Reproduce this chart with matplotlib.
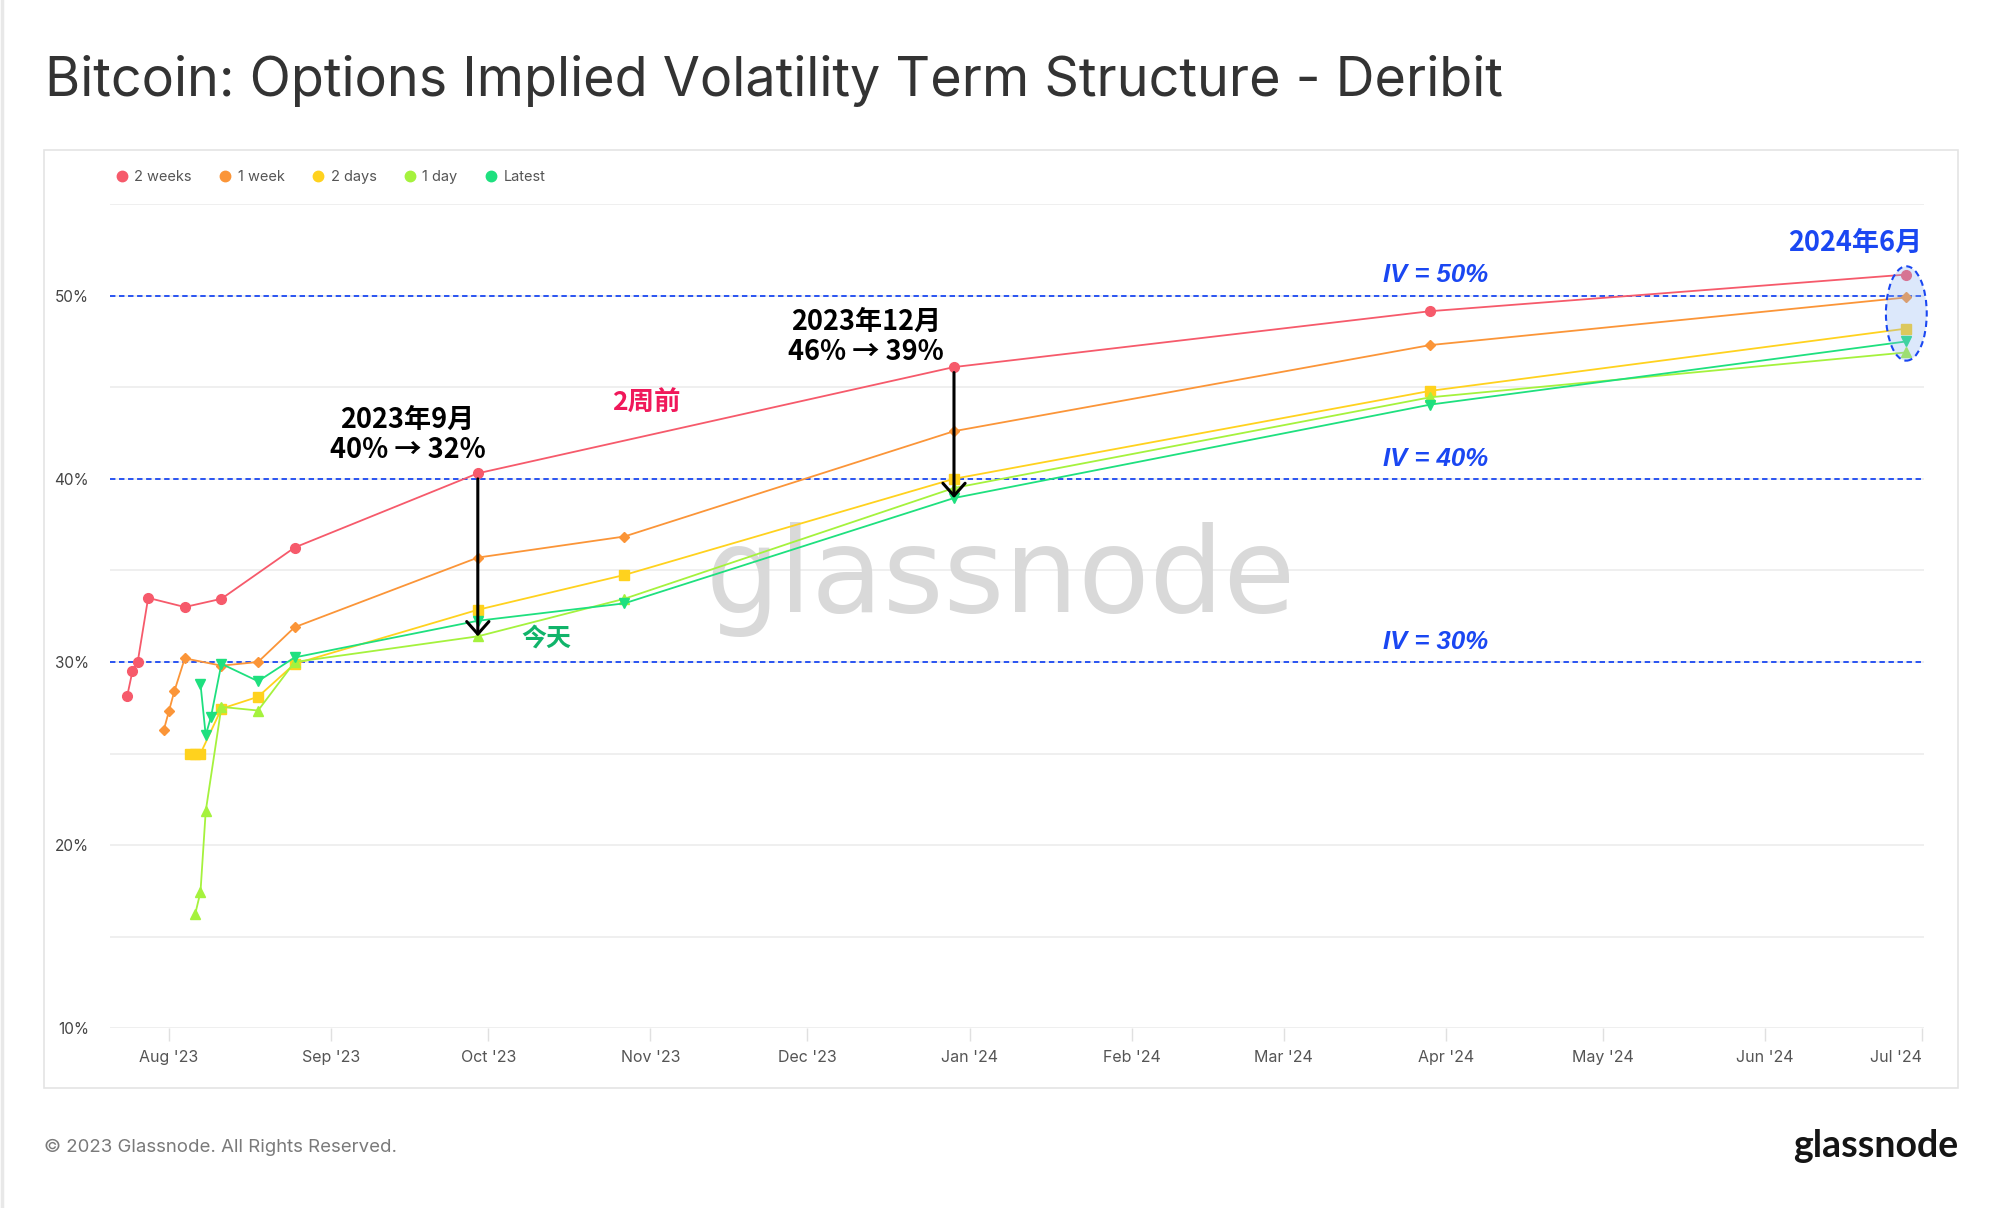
import matplotlib
matplotlib.use("Agg")
import matplotlib.pyplot as plt
import matplotlib.dates as mdates
from matplotlib.lines import Line2D
from matplotlib.patches import Ellipse, Rectangle
from matplotlib.ticker import FuncFormatter
import pandas as pd

plt.rcParams['font.family'] = ['Inter', 'Noto Sans CJK SC', 'DejaVu Sans']

# option expiries and implied vol (%) for each snapshot
two_weeks_dates = ['2023-07-24', '2023-07-25', '2023-07-26', '2023-07-28', '2023-08-04', '2023-08-11',
                   '2023-08-25', '2023-09-29', '2023-12-29', '2024-03-29', '2024-06-28']
two_weeks_iv = [28.15, 29.5, 30.0, 33.5, 33.0, 33.45, 36.25, 40.3, 46.1, 49.15, 51.15]

one_week_dates = ['2023-07-31', '2023-08-01', '2023-08-02', '2023-08-04', '2023-08-11', '2023-08-18',
                  '2023-08-25', '2023-09-29', '2023-10-27', '2023-12-29', '2024-03-29', '2024-06-28']
one_week_iv = [26.3, 27.35, 28.4, 30.2, 29.8, 30.0, 31.9, 35.7, 36.85, 42.6, 47.3, 49.9]

two_days_dates = ['2023-08-05', '2023-08-06', '2023-08-07', '2023-08-11', '2023-08-18', '2023-08-25',
                  '2023-09-29', '2023-10-27', '2023-12-29', '2024-03-29', '2024-06-28']
two_days_iv = [25.0, 25.0, 25.0, 27.45, 28.1, 29.9, 32.85, 34.75, 40.0, 44.8, 48.2]

one_day_dates = ['2023-08-06', '2023-08-07', '2023-08-08', '2023-08-11', '2023-08-18', '2023-08-25',
                 '2023-09-29', '2023-10-27', '2023-12-29', '2024-03-29', '2024-06-28']
one_day_iv = [16.25, 17.45, 21.85, 27.55, 27.35, 30.0, 31.4, 33.45, 39.5, 44.45, 46.9]

latest_dates = ['2023-08-07', '2023-08-08', '2023-08-09', '2023-08-11', '2023-08-18', '2023-08-25',
                '2023-09-29', '2023-10-27', '2023-12-29', '2024-03-29', '2024-06-28']
latest_iv = [28.8, 26.0, 27.0, 29.9, 28.95, 30.25, 32.25, 33.2, 38.95, 44.05, 47.5]

series_names = ['2 weeks', '1 week', '2 days', '1 day', 'Latest']
iv_levels = [30, 40, 50]

colors = ['#f65a6b', '#fb9538', '#ffd21e', '#a5f23d', '#1ee07f']
markers = ['o', 'D', 's', '^', 'v']
msizes = [7, 5, 6.5, 7, 7]
blue = '#1a47f2'
cjk = ['Noto Sans CJK SC', 'DejaVu Sans']

fig = plt.figure(figsize=(20, 12.08), dpi=100)
ax = fig.add_axes([0.055, 0.1487, 0.907, 0.6824])

# panel frame + left page edge
fig.patches.append(Rectangle((0.022, 0.0993), 0.957, 0.7765, transform=fig.transFigure,
                             fill=False, edgecolor='#e4e4e4', lw=1.2))
fig.add_artist(Line2D([0.0008, 0.0008], [0, 1], color='#e8e8e8', lw=2.5, transform=fig.transFigure))

fig.text(0.0223, 1 - 96 / 1208, 'Bitcoin: Options Implied Volatility Term Structure - Deribit',
         fontsize=38.8, color='#333333', va='baseline', ha='left')
fig.text(0.022, 0.0466, '© 2023 Glassnode. All Rights Reserved.', fontsize=13.4, color='#7a7a7a', va='baseline')
fig.text(0.979, 0.0425, 'glassnode', fontsize=27, family='Lato', weight='bold', color='#151515',
         ha='right', va='baseline')

# watermark
ax.text(0.5005, 0.52, 'glassnode', transform=fig.transFigure, fontsize=84, family='DejaVu Sans',
        color='#d9d9d9', ha='center', va='center', zorder=1)

all_dates = [two_weeks_dates, one_week_dates, two_days_dates, one_day_dates, latest_dates]
all_iv = [two_weeks_iv, one_week_iv, two_days_iv, one_day_iv, latest_iv]
for name, d, v, c, m, ms in zip(series_names, all_dates, all_iv, colors, markers, msizes):
    ax.plot(pd.to_datetime(d), v, color=c, marker=m, ms=ms, lw=1.3, mec=c, mfc=c, zorder=3, label=name)

for lvl in iv_levels:
    ax.axhline(lvl, color=blue, ls=(0, (3, 2)), lw=1.3, zorder=2)
    ax.text(pd.Timestamp('2024-03-30'), lvl + 1.1, f'IV = {lvl}%', family='Liberation Sans',
            weight='bold', style='italic', fontsize=18.5, color=blue, ha='center', va='center')

# arrows: 2 weeks ago -> now
sep = mdates.date2num(pd.Timestamp('2023-09-29'))
dec = mdates.date2num(pd.Timestamp('2023-12-29'))
arrow = dict(arrowstyle='->,head_length=0.45,head_width=0.4', color='black', lw=2.2,
             shrinkA=4, shrinkB=0, mutation_scale=20)
ax.annotate('', xy=(sep, one_day_iv[6]), xytext=(sep, two_weeks_iv[7]), arrowprops=arrow, zorder=5)
ax.annotate('', xy=(dec, latest_iv[8]), xytext=(dec, two_weeks_iv[8]), arrowprops=arrow, zorder=5)

fig.text(407.5 / 2000, 1 - 434.5 / 1208, '2023年9月\n40% → 32%', family=cjk, weight='bold',
         fontsize=19.5, ha='center', va='center', linespacing=1.1)
fig.text(866 / 2000, 1 - 336.5 / 1208, '2023年12月\n46% → 39%', family=cjk, weight='bold',
         fontsize=19.5, ha='center', va='center', linespacing=1.1)
fig.text(646 / 2000, 1 - 403 / 1208, '2周前', family=cjk, weight='bold', fontsize=19,
         color='#f0185a', ha='center', va='center')
fig.text(546 / 2000, 1 - 639 / 1208, '今天', family=cjk, weight='bold', fontsize=18,
         color='#10b46a', ha='center', va='center')
fig.text(1855 / 2000, 1 - 243 / 1208, '2024年6月', family=cjk, weight='bold', fontsize=19.5,
         color=blue, ha='center', va='center')

# highlight last expiry
last = [s[-1] for s in all_iv]
ell = Ellipse((mdates.date2num(pd.Timestamp('2024-06-28')), (max(last) + min(last)) / 2),
              width=7.8, height=max(last) - min(last) + 0.9,
              facecolor=(0.55, 0.7, 0.95, 0.3), edgecolor=blue, ls=(0, (3, 2)), lw=1.5,
              zorder=4, clip_on=False)
ax.add_patch(ell)

# axes
ax.set_xlim(pd.Timestamp('2023-07-20 17:00'), pd.Timestamp('2024-07-01 09:00'))
ax.set_ylim(10, 55)
ax.set_yticks([10, 20, 30, 40, 50])
ax.set_yticks([15, 25, 35, 45, 55], minor=True)
ax.yaxis.set_major_formatter(FuncFormatter(lambda v, p: f'{v:.0f}%'))
ax.grid(axis='y', which='both', color='#ececec', lw=1.2)
ax.set_axisbelow(True)
months = pd.date_range('2023-08-01', '2024-07-01', freq='MS')
ax.set_xticks(months)
ax.set_xticklabels([m.strftime("%b '%y") for m in months])
ax.get_xticklabels()[-1].set_horizontalalignment('right')
ax.tick_params(axis='y', which='both', length=0, pad=15, labelsize=11, labelcolor='#444444')
ax.tick_params(axis='x', length=9.5, width=1, color='#e0e0e0', pad=6, labelsize=11.5, labelcolor='#555555')
for s in ax.spines.values():
    s.set_visible(False)

handles = [Line2D([], [], marker='o', ls='None', color=c, ms=7.5) for c in colors]
leg = fig.legend(handles, series_names, loc='center left', bbox_to_anchor=(0.0588, 0.8535), ncol=5,
                 frameon=False, fontsize=10.5, handlelength=0.6, handletextpad=0.55,
                 columnspacing=2.0, borderpad=0, borderaxespad=0)
for t in leg.get_texts():
    t.set_color('#555555')

fig.savefig('out.png', dpi=100)
